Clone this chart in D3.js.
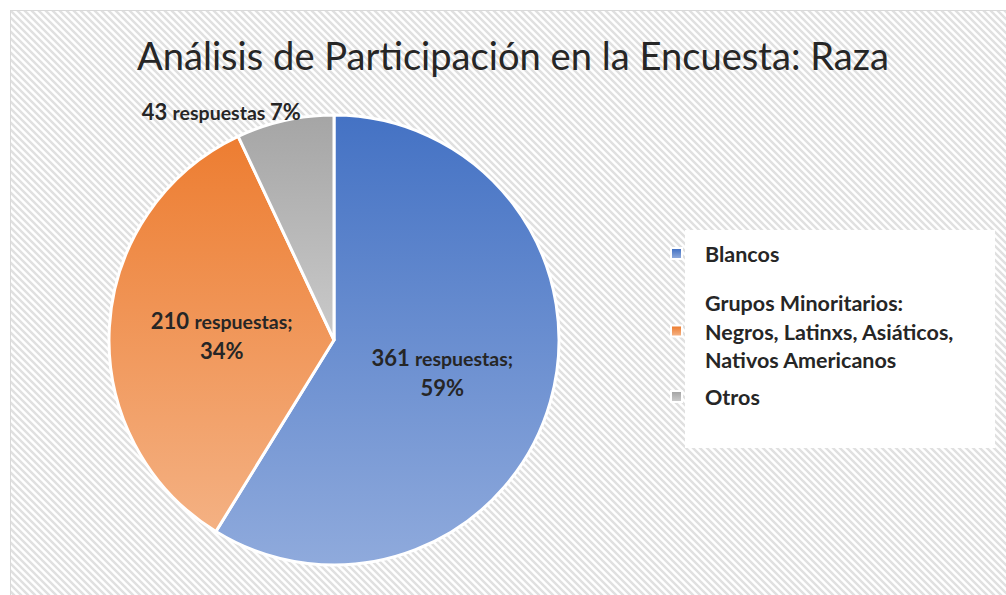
<!DOCTYPE html>
<html><head><meta charset="utf-8">
<script src="https://cdn.jsdelivr.net/npm/d3@7"></script>
<style>html,body{margin:0;padding:0;background:#fff;overflow:hidden}svg{display:block}</style>
</head><body>
<svg id="c" width="1006" height="595"></svg>
<script>
const title = "Análisis de Participación en la Encuesta: Raza";
const categories = ["Blancos", "Grupos Minoritarios: Negros, Latinxs, Asiáticos, Nativos Americanos", "Otros"];
const legendLines = [["Blancos"], ["Grupos Minoritarios:", "Negros, Latinxs, Asiáticos,", "Nativos Americanos"], ["Otros"]];
const values = [361, 210, 43];
const percents = ["59%", "34%", "7%"];
const colorsTop = ["#4472c4", "#ed7d31", "#a5a5a5"];
const colorsBottom = ["#8faadc", "#f4b183", "#cacaca"];

const svg = d3.select("#c");
const font = "Lato, 'Open Sans', sans-serif";
const textColor = "#262626";

const defs = svg.append("defs");
const pat = defs.append("pattern").attr("id", "hatch").attr("patternUnits", "userSpaceOnUse")
  .attr("width", 7).attr("height", 7);
pat.append("rect").attr("width", 7).attr("height", 7).attr("fill", "#ffffff");
pat.append("path").attr("d", "M-2,-2L9,9M-2,5L2,9M5,-2L9,2")
  .attr("stroke", "#e0e0e0").attr("stroke-width", 2.4);

colorsTop.forEach((c, i) => {
  const g = defs.append("linearGradient").attr("id", "g" + i)
    .attr("x1", 0).attr("y1", 0).attr("x2", 0).attr("y2", 1);
  g.append("stop").attr("offset", 0).attr("stop-color", c);
  g.append("stop").attr("offset", 1).attr("stop-color", colorsBottom[i]);
});

// chart frame
svg.append("rect").attr("x", 10.5).attr("y", 10.5).attr("width", 1010).attr("height", 600)
  .attr("fill", "url(#hatch)").attr("stroke", "#d9d9d9").attr("stroke-width", 1);

// title
svg.append("text").attr("x", 513).attr("y", 70).attr("text-anchor", "middle")
  .attr("font-family", font).attr("font-size", 39).attr("fill", textColor)
  .attr("textLength", 752).attr("lengthAdjust", "spacingAndGlyphs")
  .text(title);

// pie
const cx = 334, cy = 340, R = 225;
const pie = d3.pie().sort(null).value(d => d)(values);
const arc = d3.arc().innerRadius(0).outerRadius(R);
const g = svg.append("g").attr("transform", `translate(${cx},${cy})`);
g.selectAll("path.slice").data(pie).join("path").attr("class", "slice")
  .attr("d", arc).attr("fill", (d, i) => `url(#g${i})`)
  .attr("stroke", "#ffffff").attr("stroke-width", 3).attr("stroke-linejoin", "round");

// labels
const labelArc = d3.arc().innerRadius(R * 0.5).outerRadius(R * 0.5);
pie.forEach((d, i) => {
  if (i < 2) {
    const [x, y] = labelArc.centroid(d);
    const t = g.append("text").attr("text-anchor", "middle").attr("font-family", font)
      .attr("font-weight", "bold").attr("fill", textColor);
    const l1 = t.append("tspan").attr("x", x).attr("y", y - 5);
    l1.append("tspan").attr("font-size", 22).text(values[i] + " ");
    l1.append("tspan").attr("font-size", 19.5).text("respuestas;");
    t.append("tspan").attr("x", x).attr("y", y + 25).attr("font-size", 22).text(percents[i]);
  } else {
    const mid = (d.startAngle + d.endAngle) / 2;
    const ox = Math.sin(mid) * R, oy = -Math.cos(mid) * R;
    const t = g.append("text").attr("text-anchor", "end").attr("font-family", font)
      .attr("font-weight", "bold").attr("fill", textColor)
      .attr("x", ox + 16).attr("y", oy);
    t.append("tspan").attr("font-size", 22).text(values[i] + " ");
    t.append("tspan").attr("font-size", 19.5).text("respuestas ");
    t.append("tspan").attr("font-size", 22).text(percents[i]);
  }
});

// legend
svg.append("rect").attr("x", 685).attr("y", 230).attr("width", 310).attr("height", 218).attr("fill", "#ffffff");
const legY = [262, 311, 405];
legendLines.forEach((lines, i) => {
  const first = legY[i];
  const n = lines.length;
  const mid = first + (n - 1) * 28.5 / 2;
  svg.append("rect").attr("x", 670).attr("y", mid - 15).attr("width", 13).attr("height", 13).attr("fill", "#ffffff");
  svg.append("rect").attr("x", 672).attr("y", mid - 13).attr("width", 9).attr("height", 9).attr("fill", `url(#g${i})`);
  const t = svg.append("text").attr("font-family", font).attr("font-weight", "bold")
    .attr("font-size", 21.5).attr("fill", textColor);
  lines.forEach((ln, j) => t.append("tspan").attr("x", 705).attr("y", first + j * 28.5).text(ln));
});
</script>
</body></html>
